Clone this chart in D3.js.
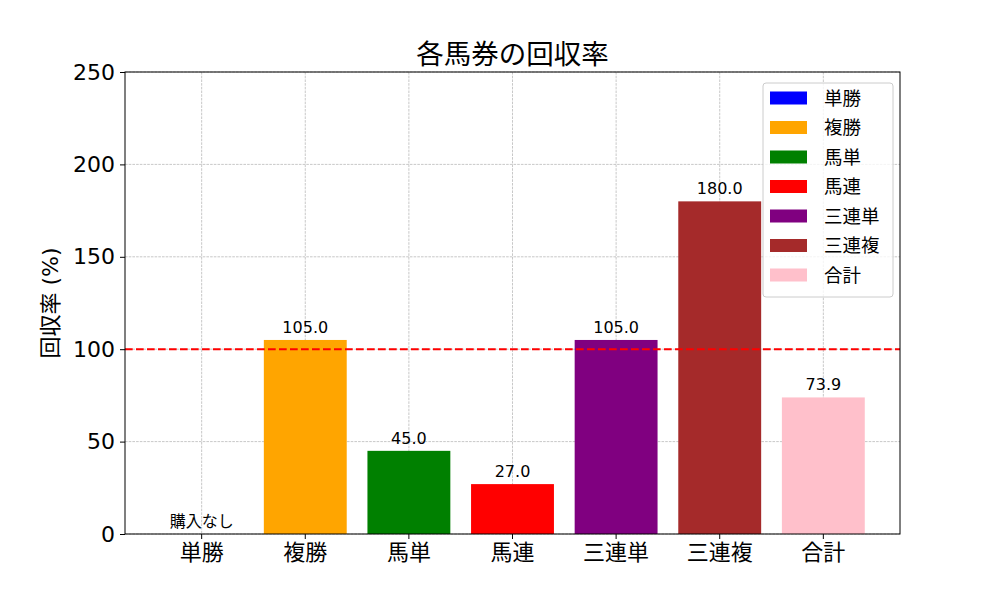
<!DOCTYPE html>
<html><head><meta charset="utf-8">
<script src="https://cdn.jsdelivr.net/npm/d3@7"></script>
<style>body{margin:0;background:#fff}svg{display:block}text{font-family:"DejaVu Sans","Noto Sans CJK JP",sans-serif}</style>
</head><body><svg id="c" width="1000" height="600"></svg>
<script>
const categories = ["単勝","複勝","馬単","馬連","三連単","三連複","合計"];
const values = [0, 105.0, 45.0, 27.0, 105.0, 180.0, 73.9];
const labels = ["購入なし","105.0","45.0","27.0","105.0","180.0","73.9"];
const colors = ["blue","orange","green","red","purple","brown","pink"];
const yTicks = [0,50,100,150,200,250];
const refLine = 100;

const FONT = '"DejaVu Sans","Noto Sans CJK JP",sans-serif';
const svg = d3.select("#c");
const L=125,R=900,T=72,B=534;
const x = d3.scaleBand().domain(categories).range([L,R]).paddingInner(0.2).paddingOuter(0.34);
const y = d3.scaleLinear().domain([0,250]).range([B,T]);

// grid
const g = svg.append("g");
yTicks.forEach(t=>g.append("line").attr("x1",L).attr("x2",R).attr("y1",y(t)).attr("y2",y(t))
  .attr("stroke","#b0b0b0").attr("stroke-width",0.7).attr("stroke-dasharray","2.6,1.1"));
categories.forEach(c=>g.append("line").attr("x1",x(c)+x.bandwidth()/2).attr("x2",x(c)+x.bandwidth()/2).attr("y1",T).attr("y2",B)
  .attr("stroke","#b0b0b0").attr("stroke-width",0.7).attr("stroke-dasharray","2.6,1.1"));

// bars
svg.append("g").selectAll("rect").data(categories).join("rect")
  .attr("x",d=>x(d)).attr("width",x.bandwidth())
  .attr("y",(d,i)=>y(values[i])).attr("height",(d,i)=>y(0)-y(values[i]))
  .attr("fill",(d,i)=>colors[i]);

// bar labels
svg.append("g").selectAll("text").data(categories).join("text")
  .attr("x",d=>x(d)+x.bandwidth()/2).attr("y",(d,i)=>y(values[i])-7)
  .attr("text-anchor","middle").attr("font-size",16).attr("fill","#000")
  .style("font-family",FONT)
  .text((d,i)=>labels[i]);

// ref line
svg.append("line").attr("x1",L).attr("x2",R).attr("y1",y(refLine)).attr("y2",y(refLine))
  .attr("stroke","red").attr("stroke-width",2).attr("stroke-dasharray","7.7,3.3");

// axes
const ya = svg.append("g").attr("transform",`translate(${L},0)`).call(d3.axisLeft(y).tickValues(yTicks).tickSize(5).tickPadding(5));
ya.selectAll("text").attr("font-size",22).attr("fill","#000").style("font-family",FONT);
ya.select(".domain").remove();
const xa = svg.append("g").attr("transform",`translate(0,${B})`).call(d3.axisBottom(x).tickSize(5).tickPadding(5));
xa.selectAll("text").attr("font-size",22).attr("fill","#000").style("font-family",FONT);
xa.select(".domain").remove();
svg.selectAll(".tick line").attr("stroke","#000");

// frame
svg.append("rect").attr("x",L).attr("y",T).attr("width",R-L).attr("height",B-T).attr("fill","none").attr("stroke","#000").attr("stroke-width",1);

// title and y label
svg.append("text").attr("x",(L+R)/2).attr("y",64).attr("text-anchor","middle").attr("font-size",27.5).text("各馬券の回収率");
svg.append("text").attr("transform",`translate(58,${(T+B)/2}) rotate(-90)`).attr("text-anchor","middle").attr("font-size",22).text("回収率 (%)");

// legend
const lg = svg.append("g");
lg.append("rect").attr("x",763).attr("y",83).attr("width",130).attr("height",214).attr("rx",3)
  .attr("fill","#fff").attr("fill-opacity",0.8).attr("stroke","#ccc");
categories.forEach((c,i)=>{
  const yy = 98 + i*29.5;
  lg.append("rect").attr("x",770).attr("y",yy-6.5).attr("width",37).attr("height",13).attr("fill",colors[i]);
  lg.append("text").attr("x",824).attr("y",yy+6.5).attr("font-size",18.5).text(c);
});
</script></body></html>
